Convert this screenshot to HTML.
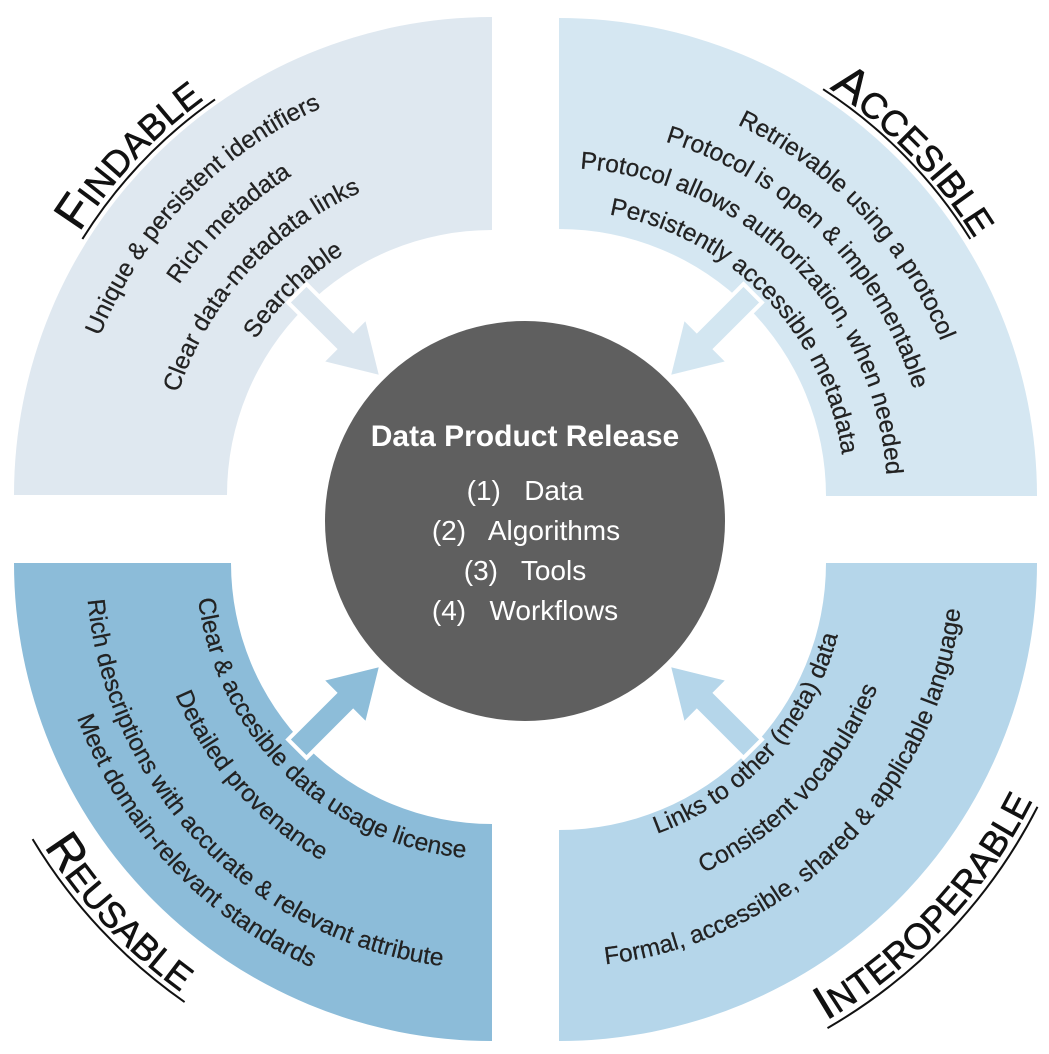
<!DOCTYPE html>
<html><head><meta charset="utf-8"><style>
html,body{margin:0;padding:0;background:#fff;}
svg{display:block;}
.b{font-family:"Liberation Sans",sans-serif;font-size:24.5px;fill:#222;stroke:#222;stroke-width:0.25;}
.l{font-family:"Liberation Sans",sans-serif;fill:#111;stroke:#111;stroke-width:0.6;}
</style></head><body>
<svg width="1049" height="1054" viewBox="0 0 1049 1054" xmlns="http://www.w3.org/2000/svg">
<defs>
<path id="tl1" d="M69,495 A423,423 0 0 1 492,72"/>
<path id="tl2" d="M115,495 A377,377 0 0 1 492,118"/>
<path id="tl3" d="M162,495 A330,330 0 0 1 492,165"/>
<path id="tl4" d="M209,495 A283,283 0 0 1 492,212"/>
<path id="tlL" d="M3,495 A489,489 0 0 1 492,6"/>
<path id="tr1" d="M559,84 A412,412 0 0 1 971,496"/>
<path id="tr2" d="M559,126 A370,370 0 0 1 929,496"/>
<path id="tr3" d="M559,168 A328,328 0 0 1 887,496"/>
<path id="tr4" d="M559,210 A286,286 0 0 1 845,496"/>
<path id="trL" d="M559,7 A489,489 0 0 1 1048,496"/>
<path id="bl1" d="M196,563 A296,296 0 0 0 492,859"/>
<path id="bl2" d="M149,563 A343,343 0 0 0 492,906"/>
<path id="bl3" d="M86,563 A406,406 0 0 0 492,969"/>
<path id="bl4" d="M49,563 A443,443 0 0 0 492,1006"/>
<path id="blL" d="M-38,563 A530,530 0 0 0 492,1093"/>
<path id="br1" d="M559,851 A288,288 0 0 0 847,563"/>
<path id="br2" d="M559,905 A342,342 0 0 0 901,563"/>
<path id="br3" d="M559,967 A404,404 0 0 0 963,563"/>
<path id="brL" d="M559,1093 A530,530 0 0 0 1089,563"/>
</defs>

<path d="M14,495 A478,478 0 0 1 492,17 L492,230 A265,265 0 0 0 227,495 Z" fill="#dfe8f0"/>
<path d="M559,18 A478,478 0 0 1 1037,496 L826,496 A267,267 0 0 0 559,229 Z" fill="#d5e7f2"/>
<path d="M14,563 A478,478 0 0 0 492,1041 L492,824 A261,261 0 0 1 231,563 Z" fill="#8cbcd9"/>
<path d="M559,1041 A478,478 0 0 0 1037,563 L826,563 A267,267 0 0 1 559,830 Z" fill="#b5d6ea"/>

<g stroke="#fff" stroke-width="4" stroke-linejoin="miter">
<polygon transform="translate(525,521) rotate(225)" points="203,0 256,-32 256,-13 322,-13 322,13 256,13 256,32" fill="#dbe6ef"/>
<polygon transform="translate(525,521) rotate(-45)" points="203,0 256,-32 256,-13 322,-13 322,13 256,13 256,32" fill="#d3e6f1"/>
<polygon transform="translate(525,521) rotate(135)" points="203,0 256,-32 256,-13 322,-13 322,13 256,13 256,32" fill="#8dbdd9"/>
<polygon transform="translate(525,521) rotate(45)" points="203,0 256,-32 256,-13 322,-13 322,13 256,13 256,32" fill="#b5d6ea"/>
</g>

<circle cx="525" cy="521" r="200" fill="#5f5f5f"/>
<g font-family="Liberation Sans, sans-serif" fill="#fff" text-anchor="middle">
<text x="525" y="446" font-size="30" font-weight="bold">Data Product Release</text>
<text x="525" y="500" font-size="28" xml:space="preserve">(1)   Data</text>
<text x="526" y="540" font-size="28" xml:space="preserve">(2)   Algorithms</text>
<text x="525" y="580" font-size="28" xml:space="preserve">(3)   Tools</text>
<text x="525" y="620" font-size="28" xml:space="preserve">(4)   Workflows</text>
</g>

<g class="b" text-anchor="middle">
<text><textPath href="#tl1" startOffset="49%">Unique &amp; persistent identifiers</textPath></text>
<text><textPath href="#tl2" startOffset="51%">Rich metadata</textPath></text>
<text><textPath href="#tl3" startOffset="47%">Clear data-metadata links</textPath></text>
<text><textPath href="#tl4" startOffset="51%">Searchable</textPath></text>

<text><textPath href="#tr1" startOffset="52%">Retrievable using a protocol</textPath></text>
<text><textPath href="#tr2" startOffset="50%">Protocol is open &amp; implementable</textPath></text>
<text><textPath href="#tr3" startOffset="50%">Protocol allows authorization, when needed</textPath></text>
<text><textPath href="#tr4" startOffset="51%">Persistently accessible metadata</textPath></text>

<text><textPath href="#bl1" startOffset="51%">Clear &amp; accesible data usage license</textPath></text>
<text><textPath href="#bl2" startOffset="46%">Detailed provenance</textPath></text>
<text><textPath href="#bl3" startOffset="49%">Rich descriptions with accurate &amp; relevant attribute</textPath></text>
<text><textPath href="#bl4" startOffset="48%">Meet domain-relevant standards</textPath></text>

<text><textPath href="#br1" startOffset="53%">Links to other (meta) data</textPath></text>
<text><textPath href="#br2" startOffset="52%">Consistent vocabularies</textPath></text>
<text><textPath href="#br3" startOffset="50%">Formal, accessible, shared &amp; applicable language</textPath></text>
</g>

<g class="l" text-anchor="middle">
<text><textPath href="#tlL" startOffset="48%"><tspan font-size="48">F</tspan><tspan font-size="36">INDABLE</tspan></textPath></text>
<text><textPath href="#trL" startOffset="51%"><tspan font-size="48">A</tspan><tspan font-size="36">CCESIBLE</tspan></textPath></text>
<text><textPath href="#blL" startOffset="48%"><tspan font-size="48">R</tspan><tspan font-size="36">EUSABLE</tspan></textPath></text>
<text><textPath href="#brL" startOffset="52%"><tspan font-size="48">I</tspan><tspan font-size="36">NTEROPERABLE</tspan></textPath></text>
</g>

<g fill="none" stroke="#111" stroke-width="2">
<path d="M82.4,239.0 A483,483 0 0 1 215.0,99.4"/>
<path d="M823.1,89.2 A485,485 0 0 1 970.3,239.0"/>
<path d="M32.6,839.1 A536,536 0 0 0 184.6,1002.1"/>
<path d="M827.5,1028.1 A537,537 0 0 0 1037.5,806.8"/>
</g>
</svg>
</body></html>
